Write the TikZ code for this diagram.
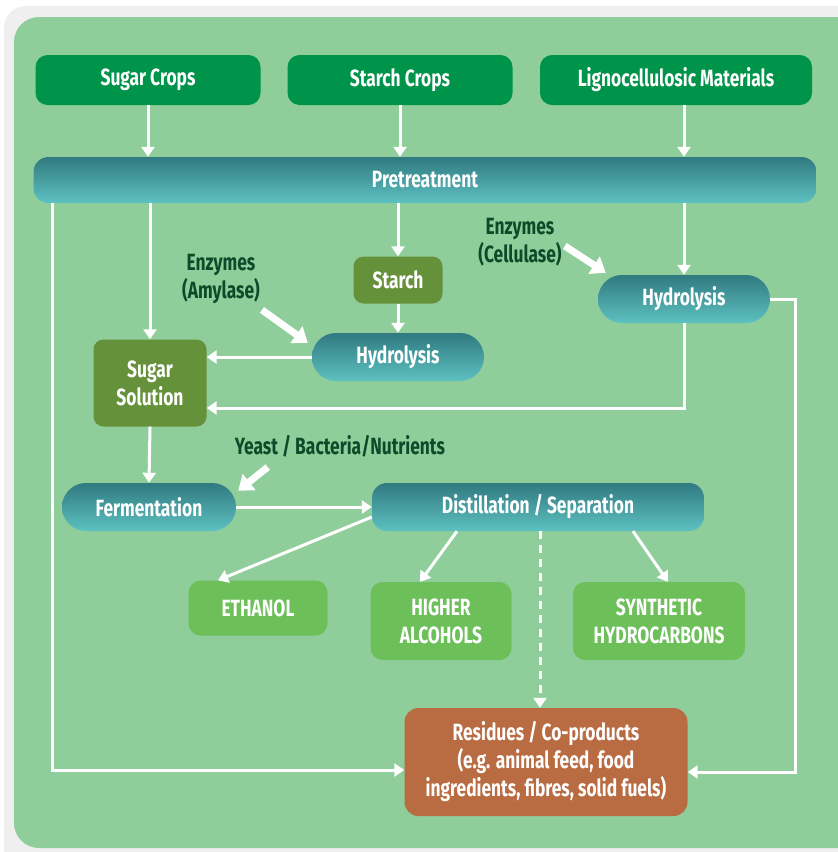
\documentclass[tikz,border=0pt]{standalone}
\usepackage{fontspec}
\setmainfont{Fira Sans}[FakeStretch=0.74]
\usetikzlibrary{arrows.meta}
\definecolor{framebg}{HTML}{EFEFEF}
\definecolor{panelbg}{HTML}{8FCE9A}
\definecolor{cropfill}{HTML}{00934A}
\definecolor{tealtop}{HTML}{307A80}
\definecolor{tealbot}{HTML}{5EC1C1}
\definecolor{olivefill}{HTML}{66913B}
\definecolor{prodfill}{HTML}{6CBF59}
\definecolor{residfill}{HTML}{B96B42}
\definecolor{lbltext}{HTML}{0E4A2A}
\tikzset{
  box/.style={text=white, font=\bfseries\fontsize{23.5}{28}\selectfont, align=center, inner sep=0pt},
  cropbox/.style={box, fill=cropfill, rounded corners=12pt, minimum width=225pt, minimum height=50pt},
  procbox/.style={box, top color=tealtop, bottom color=tealbot, rounded corners=23.9pt, minimum height=48pt},
  olivebox/.style={box, fill=olivefill, rounded corners=10pt},
  prodbox/.style={box, fill=prodfill, rounded corners=12pt, minimum height=55pt},
  flow/.style={draw=white, line width=3pt, -{Triangle[width=13pt,length=10pt]}},
  push/.style={draw=white, line width=7pt, -{Triangle[width=20pt,length=14pt]}},
  lab/.style={text=lbltext, font=\bfseries\fontsize{23.5}{28}\selectfont, align=center, inner sep=0pt},
}
\begin{document}
\begin{tikzpicture}[x=1pt, y=-1pt]
  \useasboundingbox (0,0) rectangle (838,852);
  \fill[framebg, rounded corners=22pt] (4,6) rectangle (870,880);
  \fill[panelbg, rounded corners=25pt] (14,17) rectangle (870,848);

  % feedstocks
  \node[cropbox] (sug) at (148,80) {Sugar Crops};
  \node[cropbox] (stc) at (400,80) {Starch Crops};
  \node[cropbox, minimum width=272pt] (lig) at (676,80) {Lignocellulosic Materials};
  \node[procbox, minimum width=783pt, rounded corners=15pt, minimum height=46pt] (pre) at (425,180) {Pretreatment};

  % conversion
  \node[olivebox, minimum width=89pt, minimum height=47pt] (sta) at (398,280) {Starch};
  \node[procbox, minimum width=172pt] (hym) at (398,357) {Hydrolysis};
  \node[procbox, minimum width=172pt] (hyr) at (684,299) {Hydrolysis};
  \node[olivebox, minimum width=113pt, minimum height=87pt] (sol) at (150,383) {Sugar\\Solution};
  \node[procbox, minimum width=174pt] (fer) at (149,507) {Fermentation};
  \node[procbox, minimum width=332pt, rounded corners=15pt] (dis) at (538,507) {Distillation / Separation};

  % products
  \node[prodbox, minimum width=139pt] (eth) at (258,608) {ETHANOL};
  \node[prodbox, minimum width=141pt, minimum height=78pt] (hig) at (441,621) {HIGHER\\ALCOHOLS};
  \node[prodbox, minimum width=172pt, minimum height=78pt] (syn) at (659,621) {SYNTHETIC\\HYDROCARBONS};
  \node[box, fill=residfill, rounded corners=14pt, minimum width=283pt, minimum height=108pt] (res) at (546,762)
    {Residues / Co-products\\(e.g. animal feed, food\\ingredients, fibres, solid fuels)};

  % inputs
  \node[lab] (amy) at (221,279) {Enzymes\\(Amylase)};
  \node[lab] (cel) at (520,242) {Enzymes\\(Cellulase)};
  \node[lab] (yst) at (340,446) {Yeast / Bacteria/Nutrients};

  \coordinate (lft) at (52,770);
  \coordinate (rgt) at (795,772);
  \coordinate (low) at (684,408);

  \draw[flow] (sug.south) -- (sug.south |- pre.north);
  \draw[flow] (stc.south) -- (stc.south |- pre.north);
  \draw[flow] (hyr.north |- lig.south) -- (hyr.north |- pre.north);
  \draw[flow] (sol.north |- pre.south) -- (sol.north);
  \draw[flow] (sta.north |- pre.south) -- (sta.north);
  \draw[flow] (hyr.north |- pre.south) -- (hyr.north);
  \draw[flow] (sta.south) -- (hym.north);
  \draw[flow] (hym.west) -- (sol.east |- hym.west);
  \draw[flow] (hyr.south) -- (low) -- (sol.east |- low);
  \draw[flow] (sol.south) -- (fer.north);
  \draw[flow] (fer.east) -- (dis.west |- fer.east);
  \draw[flow] (lft |- pre.south) -- (lft) -- (res.west |- lft);
  \draw[flow] (hyr.east) -- (rgt |- hyr.east) -- (rgt) -- (res.east |- rgt);
  \draw[flow] ([yshift=-10pt]dis.west) -- ([xshift=-40pt]eth.north);
  \draw[flow] ([xshift=-81pt]dis.south) -- ([xshift=-21pt]hig.north);
  \draw[flow] ([xshift=95pt]dis.south) -- ([xshift=9pt]syn.north);
  \draw[flow, dashed, dash pattern=on 8pt off 6pt] ([xshift=2pt]dis.south) -- ([xshift=2pt]dis.south |- res.north);

  \draw[push] ([xshift=2pt,yshift=-6pt]amy.south east) -- ([xshift=-4pt,yshift=-10pt]hym.north west);
  \draw[push] ([xshift=3pt,yshift=-4pt]cel.east) -- ([xshift=8pt,yshift=2pt]hyr.north west);
  \draw[push] ([xshift=33pt,yshift=-10pt]yst.south west) -- ([xshift=2pt,yshift=-8pt]fer.north east);
\end{tikzpicture}
\end{document}
